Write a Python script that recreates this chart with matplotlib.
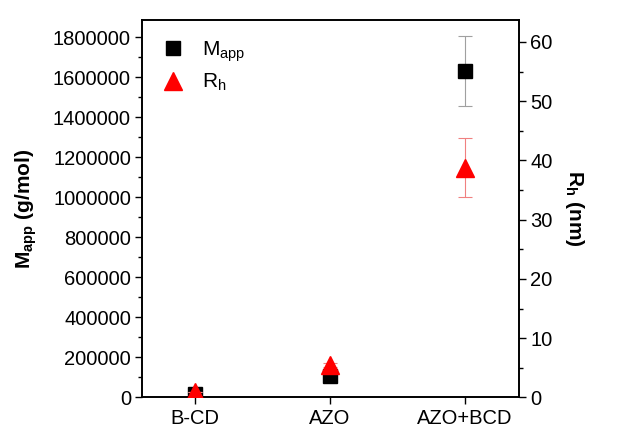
import matplotlib
matplotlib.use('Agg')
import matplotlib.pyplot as plt
from matplotlib.ticker import MultipleLocator

plt.rcParams['font.family'] = ['Liberation Sans', 'DejaVu Sans']
plt.rcParams['mathtext.fontset'] = 'custom'
plt.rcParams['mathtext.rm'] = 'Liberation Sans'
plt.rcParams['mathtext.bf'] = 'Liberation Sans:bold'

# data
samples = ['B-CD', 'AZO', 'AZO+BCD']
m_app = [15000, 105000, 1632000]
m_app_err = [0, 0, 173000]
r_h = [1.0, 5.5, 38.8]
r_h_err = [0, 0.4, 4.9]

x = list(range(len(samples)))

fig = plt.figure(figsize=(6.34, 4.3), dpi=100)
ax = fig.add_axes([0.224, 0.0756, 0.5946, 0.878])
ax2 = ax.twinx()

ax.errorbar(x, m_app, yerr=m_app_err, fmt='s', color='black', markersize=10,
            ecolor='#a0a0a0', elinewidth=0.8, capsize=5, capthick=0.8,
            label=r'M$_{\mathrm{app}}$', zorder=3)
ax2.errorbar(x, r_h, yerr=r_h_err, fmt='^', color='red', markersize=13,
             ecolor='#f08080', elinewidth=0.8, capsize=5, capthick=0.8,
             label=r'R$_{\mathrm{h}}$', zorder=4)

ax.set_xlim(-0.39, 2.4)
ax.set_ylim(0, 1887000)
ax2.set_ylim(0, 63.7)

ax.set_xticks(x)
ax.set_xticklabels(samples)
ax.yaxis.set_major_locator(MultipleLocator(200000))
ax.yaxis.set_minor_locator(MultipleLocator(100000))
ax.ticklabel_format(axis='y', style='plain', useOffset=False)
ax2.yaxis.set_major_locator(MultipleLocator(10))
ax2.yaxis.set_minor_locator(MultipleLocator(5))

for a in (ax, ax2):
    a.tick_params(which='major', direction='out', length=5, width=1, labelsize=14.5, pad=3)
    a.tick_params(which='minor', direction='out', length=3, width=1)
    for s in a.spines.values():
        s.set_linewidth(1.2)
ax.tick_params(axis='x', pad=3.5)

ax.set_ylabel(r'$\mathbf{M_{app}}$ (g/mol)', fontsize=15, fontweight='bold', labelpad=10)
ax2.set_ylabel(r'$\mathbf{R_{h}}$ (nm)', fontsize=15, fontweight='bold', rotation=270, labelpad=24)

# keep triangles drawn over the squares
ax.set_zorder(1)
ax.patch.set_visible(False)
ax2.set_zorder(2)

h1, l1 = ax.get_legend_handles_labels()
h2, l2 = ax2.get_legend_handles_labels()
leg = ax2.legend([h[0] for h in h1 + h2], l1 + l2, loc='upper left', frameon=False,
                 fontsize=15, handlelength=1.2, handletextpad=0.8,
                 borderaxespad=0.5, labelspacing=0.4)

fig.savefig('out.png', dpi=100)
